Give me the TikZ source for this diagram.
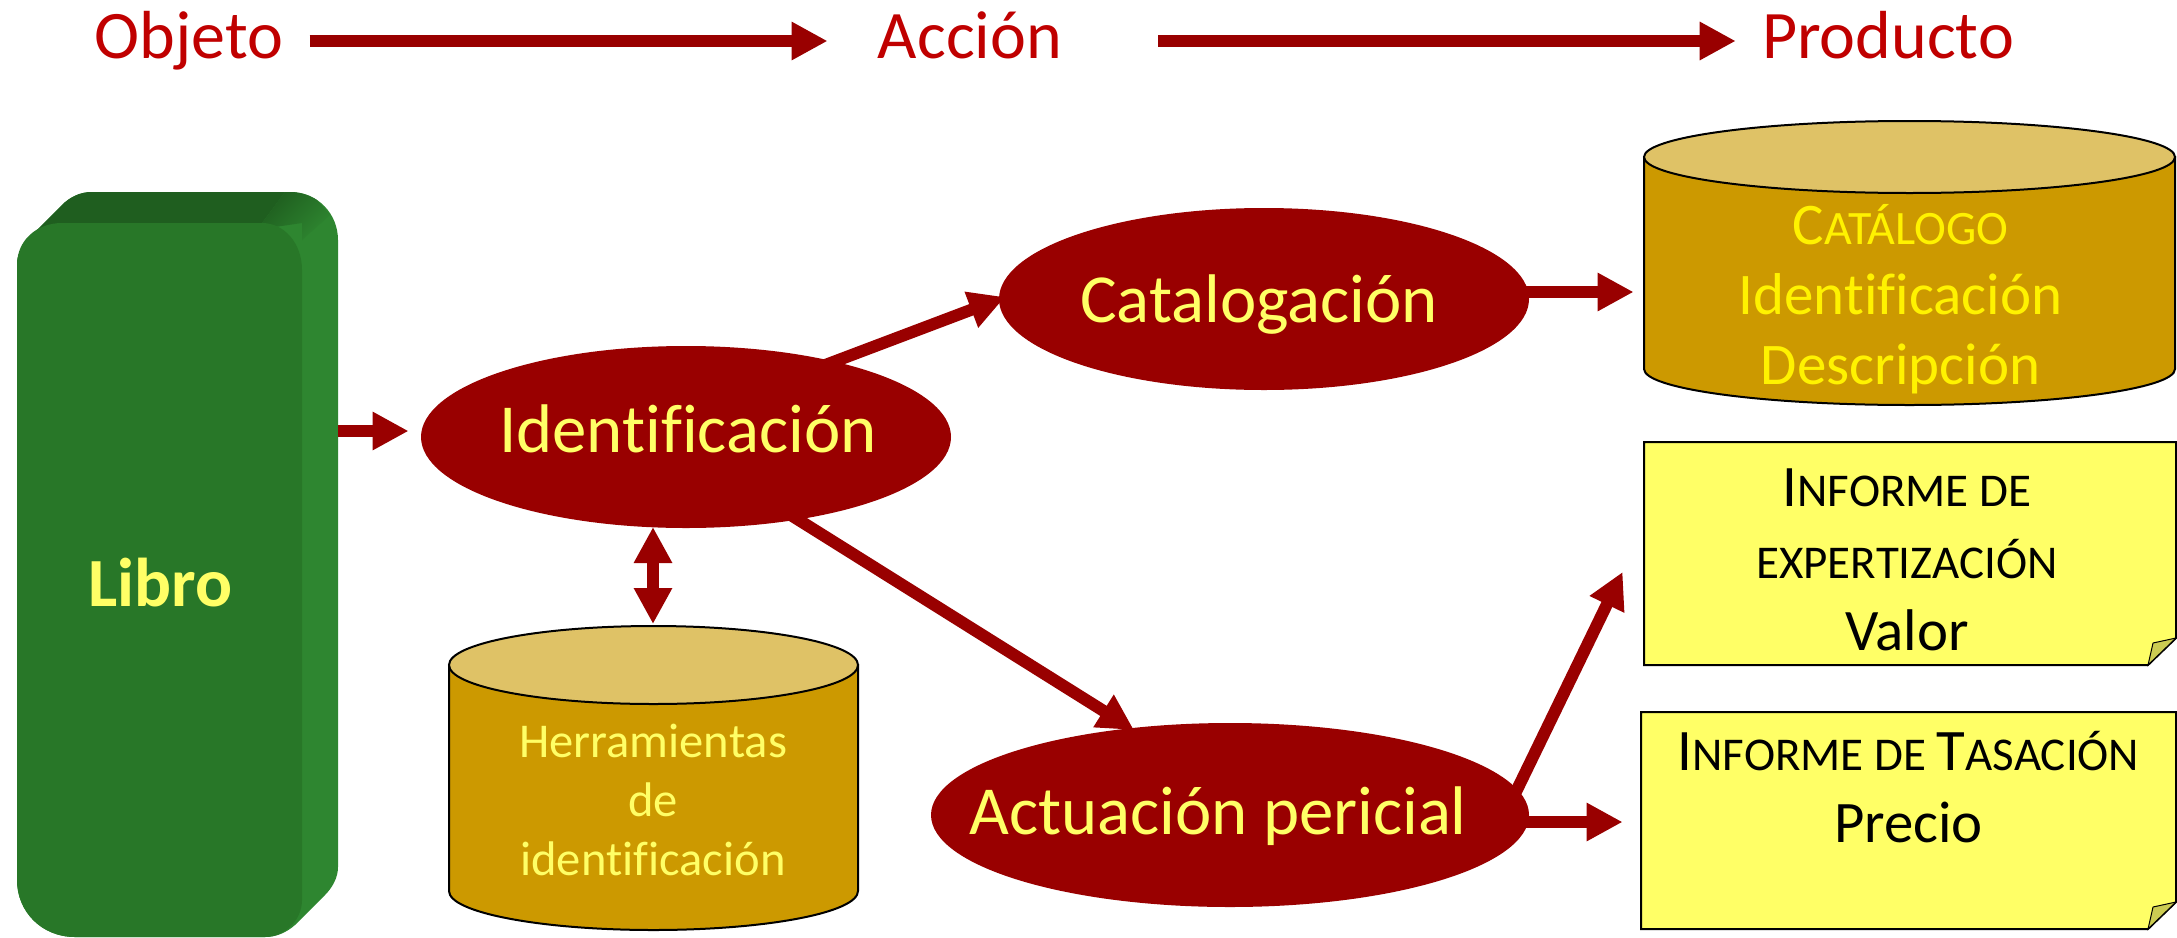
\documentclass[tikz,border=0pt]{standalone}
\usepackage{fontspec}
\setmainfont{Carlito}[Ligatures=NoCommon]
\usetikzlibrary{arrows.meta,shapes.geometric,calc}
\definecolor{dred}{HTML}{990000}
\definecolor{tred}{HTML}{C00000}
\definecolor{ell}{HTML}{FFFF66}
\definecolor{gold}{HTML}{CC9900}
\definecolor{goldtop}{HTML}{DFC266}
\definecolor{notey}{HTML}{FFFF66}
\definecolor{foldc}{HTML}{CCCC52}
\definecolor{gfront}{HTML}{287728}
\definecolor{gright}{HTML}{2E8630}
\definecolor{gtop}{HTML}{1F5E1F}
\newcommand{\fs}[2]{\fontsize{#1}{#2}\selectfont}
\newcommand{\sm}[1]{{\fontsize{23.5}{36}\selectfont #1}}
\newcommand{\cat}[1]{{\fontsize{24}{35}\selectfont #1}}
\newcommand{\cyl}[5]{% x1,y1,x2,y2,topheight
  \pgfmathsetmacro{\rx}{(#3-#1)/2}\pgfmathsetmacro{\ry}{#5/2}
  \draw[line width=1pt,fill=gold] (#1,#2+\ry) -- (#1,#4-\ry) arc[start angle=180,end angle=360,x radius=\rx,y radius=-\ry] -- (#3,#2+\ry) -- cycle;
  \draw[line width=1pt,fill=goldtop] ({(#1+#3)/2},#2+\ry) ellipse[x radius=\rx,y radius=\ry];
}
\newcommand{\notebox}[4]{% x1,y1,x2,y2
  \draw[line width=1pt,fill=notey] (#1,#2) -- (#3,#2) -- (#3,#4-27) -- (#3-28,#4) -- (#1,#4) -- cycle;
  \draw[line width=0.5pt,fill=foldc] (#3,#4-27) -- (#3-23,#4-22) -- (#3-28,#4) -- cycle;
}
\tikzset{
  x=0.5pt,y=-0.5pt,
  arr/.style={dred,line width=6pt,-{Triangle[length=18pt,width=18pt]}},
  darr/.style={dred,line width=6pt,{Triangle[length=18pt,width=18pt]}-{Triangle[length=18pt,width=18pt]}},
  oval/.style={ellipse,fill=dred,inner xsep=-60pt,inner ysep=-20pt},
  ovaltext/.style={text=ell,inner sep=0pt,font=\fs{34.4}{40}},
  head/.style={text=tred,font=\fs{34}{40},anchor=base,inner sep=0pt},
  boxnode/.style={rectangle,inner sep=0pt,align=center},
}
\begin{document}
\begin{tikzpicture}
\useasboundingbox (0,0) rectangle (2177,937);
\fill[white] (0,0) rectangle (2177,937);
% headings
\node[head] (objeto) at (189,58) {Objeto};
\node[head] (accion) at (970,58) {Acción};
\node[head] (producto) at (1888,58) {Producto};
% book
\fill[gright] (17,265) .. controls (17,255) and (22,245) .. (30,237) -- (62,205) .. controls (70,197) and (80,192) .. (92,192) -- (290,192) .. controls (318,192) and (338,214) .. (338,240) -- (338,867) .. controls (338,878) and (332,888) .. (325,895) -- (295,925) .. controls (287,932) and (277,937) .. (265,937) -- (75,937) .. controls (42,937) and (17,912) .. (17,880) -- cycle;
\begin{scope}
\clip (17,265) .. controls (17,255) and (22,245) .. (30,237) -- (62,205) .. controls (70,197) and (80,192) .. (92,192) -- (290,192) .. controls (318,192) and (338,214) .. (338,240) -- (338,300) -- (302,300) -- (302,223) -- (17,265) -- cycle;
\fill[gtop] (17,192) -- (285,192) -- (262,223) -- (17,265) -- cycle;
\shade[left color=gtop,right color=gright,shading angle=45] (285,192) -- (310,192) -- (330,215) -- (302,240) -- (262,223) -- cycle;
\end{scope}
\fill[gfront] (17,265) .. controls (17,240) and (37,223) .. (62,223) -- (262,223) .. controls (284,223) and (302,243) .. (302,270) -- (302,900) .. controls (302,920) and (285,937) .. (265,937) -- (75,937) .. controls (42,937) and (17,912) .. (17,880) -- cycle;
\node[boxnode,minimum width=160.5pt,minimum height=372.5pt] (librobox) at (177.5,564.5) {};
\node[inner sep=0pt,text=ell,font=\fs{34.5}{40}\bfseries] (libro) at (160.5,583) {Libro};
% cylinders
\cyl{1644}{121}{2175}{405}{72}
\cyl{449}{626}{858}{930}{78}
% notes
\notebox{1644}{442}{2176}{665}
\notebox{1641}{712}{2176}{929}
% ellipses
\node[oval,minimum width=265pt,minimum height=91pt] (ident) at (686,437) {};
\node[ovaltext] (identtext) at (688,429) {Identificación};
\node[oval,minimum width=265pt,minimum height=91pt] (catal) at (1264,299) {};
\node[ovaltext] (cataltext) at (1259,305) {Catalogación};
\node[oval,minimum width=299pt,minimum height=92pt] (actua) at (1230,815) {};
\node[ovaltext] (actuatext) at (1218,816) {Actuación pericial};
% cylinder / note text
\node[boxnode,text=yellow,font=\fs{29.5}{35},minimum width=256.5pt,minimum height=100pt] (catalogo) at (1900.5,299) {{C\cat{ATÁLOGO}}\\Identificación\\Descripción};
\node[boxnode,minimum width=204.5pt,minimum height=152pt] (herrbox) at (653,778) {};
\node[boxnode,text=ell,font=\fs{24.3}{29.5}] (herr) at (653,800) {Herramientas\\de\\identificación};
\node[boxnode,text=black,font=\fs{29.4}{36},minimum width=263pt,minimum height=100pt] (inf1) at (1907,560) {I\sm{NFORME DE}\\\sm{EXPERTIZACIÓN}\\Valor};
\node[boxnode,text=black,font=\fs{29.4}{36},minimum width=267.5pt] (inf2) at (1908.5,787) {I\sm{NFORME DE }T\sm{ASACIÓN}\\Precio};
% connectors
\draw[arr] ([xshift=13pt]objeto.east |- 0,41) -- ([xshift=-25pt]accion.west |- 0,41);
\draw[arr] ([xshift=48pt]accion.east |- 0,41) -- ([xshift=-13pt]producto.west |- 0,41);
\draw[arr] (librobox.east |- 0,431) -- ([xshift=-6pt]ident.west |- 0,431);
\draw[arr] ([shift={(130,-68.5)}]ident.center) -- ([shift={(-259,-2)}]catal.center);
\draw[arr] ([shift={(92,70)}]ident.center) -- ([shift={(-96,-85)}]actua.center);
\draw[darr] (herrbox.north |- 0,527) -- (herrbox.north |- 0,624);
\draw[arr] ([shift={(-5,-7)}]catal.east) -- ([xshift=-5pt]catalogo.west |- 0,292);
\draw[arr] ([shift={(282,-15)}]actua.center) -- ([xshift=-10.5pt]inf1.west |- 0,572);
\draw[arr] ([shift={(-3,7)}]actua.east) -- ([xshift=-9pt]inf2.west |- 0,822);
\end{tikzpicture}
\end{document}
